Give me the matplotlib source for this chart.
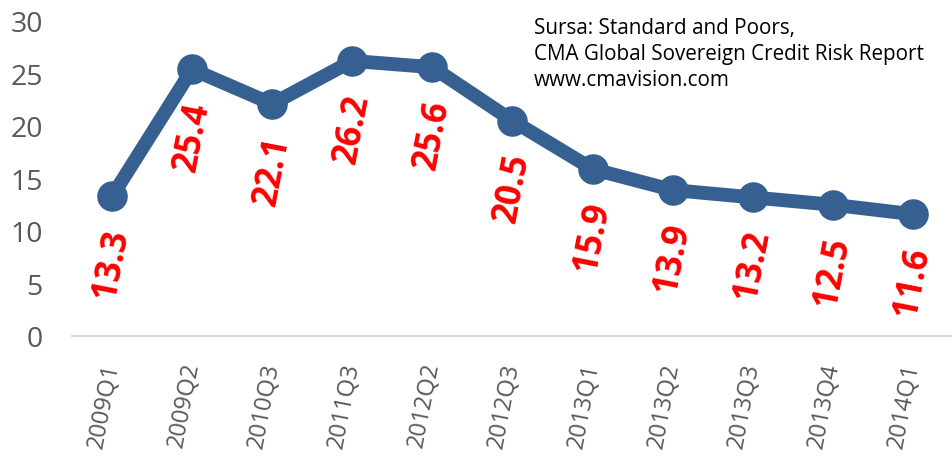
import matplotlib
matplotlib.use("Agg")
import matplotlib.pyplot as plt

categories = ["2009Q1", "2009Q2", "2010Q3", "2011Q3", "2012Q2", "2012Q3",
              "2013Q1", "2013Q2", "2013Q3", "2013Q4", "2014Q1"]
values = [13.3, 25.4, 22.1, 26.2, 25.6, 20.5, 15.9, 13.9, 13.2, 12.5, 11.6]
yticks = [0, 5, 10, 15, 20, 25, 30]
source_lines = ["Sursa: Standard and Poors,",
                "CMA Global Sovereign Credit Risk Report",
                "www.cmavision.com"]

plt.rcParams['font.family'] = ['Open Sans', 'DejaVu Sans']

fig = plt.figure(figsize=(9.53, 4.64), dpi=100)
ax = fig.add_axes([72/953, 127/464, 881/953, 315/464])

x = list(range(len(categories)))
ax.plot(x, values, color='#376092', lw=10, marker='o', ms=21,
        solid_joinstyle='round', solid_capstyle='round', zorder=3)

for xi, v in zip(x, values):
    ax.annotate(f"{v:.1f}", (xi, v), xytext=(0, -21), textcoords='offset points',
                ha='center', va='top', rotation=79, color='#ff0000',
                fontsize=25, fontweight='bold', zorder=4)

ax.set_xlim(-0.5, len(categories) - 0.5)
ax.set_ylim(0, 30)
ax.set_yticks(yticks)
ax.set_yticklabels([str(t) for t in yticks], fontsize=20.5, color='#595959')
ax.set_xticks(x)
ax.set_xticklabels(categories, fontsize=17, color='#595959', rotation=79,
                   ha='right', va='center', rotation_mode='anchor')
ax.tick_params(axis='y', length=0, pad=21)
ax.tick_params(axis='x', length=0, pad=19)

for s in ['top', 'right', 'left']:
    ax.spines[s].set_visible(False)
ax.spines['bottom'].set_color('#d9d9d9')
ax.spines['bottom'].set_linewidth(1.5)
ax.spines['bottom'].set_zorder(1)

fig.text(534/953, 1 - 18/464, "\n".join(source_lines), fontsize=14.9,
         color='#000000', ha='left', va='top', linespacing=1.3)

fig.savefig("out.png", dpi=100)
